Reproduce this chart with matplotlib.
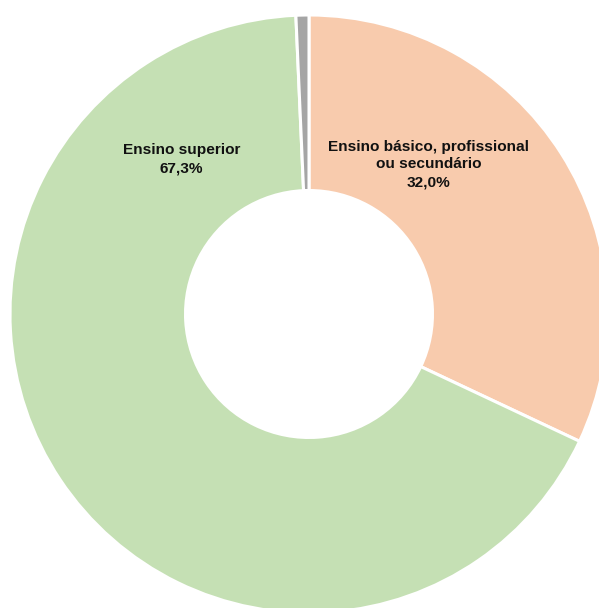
import matplotlib
matplotlib.use("Agg")
import matplotlib.pyplot as plt

categories = ["Ensino básico, profissional\nou secundário", "Ensino superior", "Outro"]
shares = [32.0, 67.3, 0.7]
colors = ["#F8CBAD", "#C5E0B4", "#A5A5A5"]
show_label = [True, True, False]
label_pos = [(0.40, 0.50), (-0.426, 0.517), None]

plt.rcParams["font.family"] = ["Liberation Sans", "DejaVu Sans"]

fig = plt.figure(figsize=(5.99, 6.08), dpi=100)
ax = fig.add_axes([0, 0, 1, 1])
ax.pie(shares, colors=colors, startangle=90, counterclock=False, radius=1.0,
       wedgeprops=dict(width=0.587, edgecolor="white", linewidth=2.2))

for name, val, show, pos in zip(categories, shares, show_label, label_pos):
    if not show:
        continue
    txt = f"{name}\n{val:.1f}%".replace(".", ",")
    ax.text(pos[0], pos[1], txt, ha="center", va="center", fontsize=11.1,
            fontweight="bold", linespacing=1.35, color="#111111")

ax.set_xlim(-309 / 299, 290 / 299)
ax.set_ylim(-294 / 299, 314 / 299)
ax.set_aspect("equal")
ax.axis("off")
fig.savefig("out.png", dpi=100)
